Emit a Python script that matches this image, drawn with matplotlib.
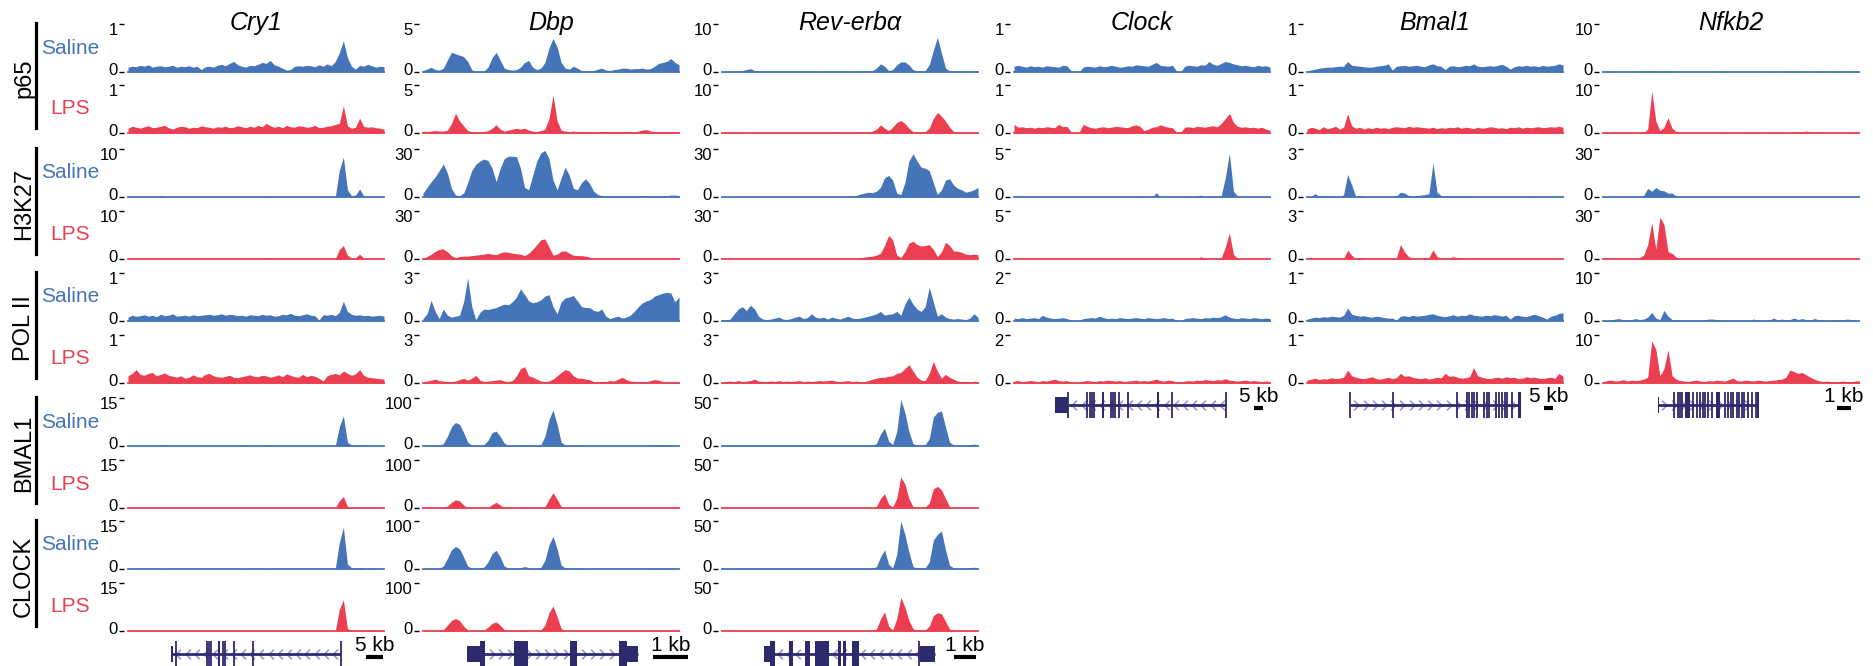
import numpy as np
import matplotlib
matplotlib.use('Agg')
import matplotlib.pyplot as plt
from matplotlib.lines import Line2D
from matplotlib.patches import Rectangle
from matplotlib.path import Path

plt.rcParams['font.family'] = ['Liberation Sans', 'DejaVu Sans']

# ---- data: binned ChIP-seq signal, % of each track's y-range (64 bins across the window) ----
gene_names = ['Cry1', 'Dbp', 'Rev-erbα', 'Clock', 'Bmal1', 'Nfkb2']
factors = ['p65', 'H3K27', 'POL II', 'BMAL1', 'CLOCK']
conditions = ['Saline', 'LPS']

y_max = {
    'Cry1': [1, 10, 1, 15, 15],
    'Dbp': [5, 30, 3, 100, 100],
    'Rev-erbα': [10, 30, 3, 50, 50],
    'Clock': [1, 5, 2],
    'Bmal1': [1, 3, 1],
    'Nfkb2': [10, 30, 10],
}

Z16 = [0] * 16

cry1_p65_sal = [10, 12, 11, 14, 12, 15, 10, 12, 13, 11, 12, 14, 10, 12, 11, 13,
                10, 12, 5, 11, 12, 10, 14, 16, 13, 18, 22, 15, 12, 10, 14, 13,
                16, 20, 18, 24, 15, 12, 8, 4, 5, 12, 13, 12, 14, 13, 11, 15,
                12, 17, 13, 22, 40, 65, 30, 12, 6, 14, 12, 16, 13, 10, 12, 11]
cry1_p65_lps = [10, 14, 12, 10, 13, 15, 11, 12, 14, 16, 11, 8, 12, 14, 13, 10,
                12, 11, 15, 13, 12, 10, 13, 12, 14, 11, 12, 15, 13, 11, 14, 12,
                16, 13, 20, 15, 12, 14, 11, 16, 13, 12, 15, 14, 12, 13, 16, 11,
                12, 14, 15, 18, 20, 57, 15, 10, 12, 31, 14, 12, 13, 11, 10, 8]
cry1_h3k27_sal = [0, 0, 0, 0, 0, 0, 0, 0, 3, 0, 0, 0, 0, 0, 0, 0] + Z16 + \
                 [0, 0, 2, 0, 0, 0, 0, 0, 0, 0, 0, 0, 0, 0, 0, 0] + \
                 [0, 0, 0, 0, 55, 83, 15, 3, 4, 17, 2, 0, 0, 0, 0, 0]
cry1_h3k27_lps = [0, 0, 0, 0, 0, 0, 0, 0, 2, 0, 0, 0, 0, 0, 0, 0] + Z16 + \
                 [0, 0, 2, 0, 0, 0, 0, 0, 0, 0, 0, 0, 0, 0, 0, 0] + \
                 [0, 0, 0, 0, 20, 28, 8, 2, 3, 10, 2, 1, 0, 0, 0, 0]
cry1_pol2_sal = [8, 12, 10, 11, 13, 10, 12, 9, 14, 11, 12, 15, 10, 11, 12, 10,
                 13, 11, 12, 13, 14, 12, 13, 15, 12, 14, 13, 11, 12, 10, 13, 12,
                 11, 14, 12, 13, 10, 11, 14, 13, 16, 12, 11, 13, 15, 12, 11, 2,
                 13, 12, 14, 11, 18, 41, 20, 14, 12, 13, 11, 12, 10, 11, 12, 10]
cry1_pol2_lps = [15, 20, 28, 18, 16, 20, 22, 15, 18, 21, 16, 14, 12, 15, 10, 12,
                 17, 13, 12, 18, 20, 15, 13, 12, 14, 16, 12, 11, 13, 15, 17, 14,
                 13, 16, 15, 12, 14, 17, 13, 19, 16, 13, 12, 18, 13, 16, 14, 10,
                 4, 15, 18, 20, 17, 25, 20, 16, 19, 28, 16, 12, 11, 10, 9, 8]
cry1_bmal1_sal = [0, 0, 0, 0, 0, 0, 0, 0, 1, 0, 0, 0, 0, 0, 0, 0,
                  0, 0, 0, 0, 0, 0, 0, 0, 0, 0, 0, 0, 1, 0, 0, 0,
                  0, 0, 1, 0, 0, 0, 0, 0, 0, 0, 0, 0, 0, 0, 0, 0,
                  0, 0, 0, 0, 40, 63, 8, 2, 1, 2, 0, 0, 0, 0, 0, 0]
cry1_bmal1_lps = Z16 + Z16 + Z16 + [0, 0, 0, 0, 15, 24, 3, 0, 0, 1, 0, 1, 0, 0, 0, 0]
cry1_clock_sal = [0, 0, 0, 0, 0, 0, 0, 0, 1, 0, 0, 0, 0, 0, 0, 0,
                  0, 0, 0, 0, 0, 0, 0, 0, 0, 0, 0, 0, 1, 0, 0, 0,
                  0, 0, 1, 0, 0, 0, 0, 0, 0, 0, 0, 0, 0, 0, 0, 0,
                  0, 0, 0, 0, 55, 87, 10, 3, 2, 3, 0, 0, 2, 0, 0, 0]
cry1_clock_lps = Z16 + Z16 + Z16 + [0, 0, 0, 0, 45, 65, 5, 0, 0, 2, 0, 0, 2, 0, 0, 0]

dbp_p65_sal = [3, 6, 10, 5, 4, 8, 25, 41, 38, 35, 32, 22, 5, 0, 0, 2,
               10, 30, 41, 25, 8, 5, 4, 5, 10, 20, 24, 10, 5, 8, 20, 50,
               70, 52, 20, 8, 6, 12, 8, 3, 2, 2, 3, 6, 8, 4, 3, 5,
               6, 8, 8, 6, 7, 7, 8, 6, 7, 12, 18, 20, 22, 28, 20, 15]
dbp_p65_lps = [4, 3, 4, 5, 4, 4, 6, 20, 41, 25, 15, 5, 3, 3, 2, 3,
               5, 10, 17, 8, 4, 6, 8, 10, 8, 10, 6, 4, 3, 5, 8, 30,
               79, 25, 6, 4, 3, 4, 3, 3, 2, 3, 2, 2, 3, 3, 2, 3,
               3, 2, 3, 3, 2, 4, 6, 7, 4, 3, 3, 2, 3, 2, 2, 2]
dbp_h3k27_sal = [8, 20, 32, 42, 55, 69, 50, 18, 4, 3, 8, 30, 55, 68, 75, 79,
                 76, 60, 32, 60, 80, 85, 85, 84, 60, 20, 15, 45, 75, 92, 97, 80,
                 35, 15, 40, 62, 45, 18, 15, 30, 38, 28, 12, 5, 3, 2, 2, 2,
                 2, 2, 2, 2, 2, 2, 3, 3, 2, 2, 2, 3, 3, 4, 4, 3]
dbp_h3k27_lps = [2, 5, 10, 16, 20, 21, 15, 7, 3, 5, 6, 6, 7, 8, 9, 10,
                 12, 10, 9, 13, 15, 14, 12, 11, 10, 7, 12, 20, 30, 40, 42, 25,
                 8, 10, 16, 17, 12, 8, 7, 7, 6, 4, 0, 0, 0, 0, 0, 0] + Z16
dbp_pol2_sal = [5, 15, 43, 20, 5, 25, 12, 8, 10, 12, 40, 90, 30, 3, 18, 25,
                24, 26, 28, 32, 35, 34, 40, 50, 67, 55, 42, 38, 40, 44, 52, 55,
                30, 15, 40, 48, 50, 53, 42, 30, 28, 28, 22, 20, 25, 10, 5, 8,
                10, 6, 8, 12, 20, 30, 38, 42, 45, 52, 55, 58, 60, 58, 40, 50]
dbp_pol2_lps = [3, 4, 6, 8, 5, 4, 3, 3, 4, 7, 10, 6, 10, 16, 6, 3,
                4, 5, 6, 7, 4, 3, 5, 15, 30, 34, 15, 12, 8, 4, 3, 4,
                8, 15, 22, 28, 25, 15, 10, 10, 8, 7, 3, 2, 3, 3, 5, 4,
                8, 12, 7, 4, 3, 3, 2, 3, 5, 7, 6, 3, 2, 2, 2, 2]
dbp_bmal1_sal = [0, 0, 1, 1, 2, 5, 20, 40, 49, 45, 28, 8, 2, 1, 1, 3,
                 12, 28, 31, 20, 6, 1, 1, 1, 2, 3, 2, 1, 1, 3, 20, 55,
                 75, 45, 8, 2, 1, 1, 1, 1, 0, 0, 0, 0, 0, 0, 0, 0,
                 0, 0, 0, 0, 0, 0, 0, 0, 0, 1, 2, 3, 2, 1, 0, 0]
dbp_bmal1_lps = [0, 0, 0, 0, 0, 1, 4, 12, 17, 15, 6, 1, 0, 0, 0, 0,
                 1, 7, 12, 6, 1, 0, 0, 0, 1, 2, 1, 0, 0, 0, 3, 18,
                 32, 18, 3, 0, 0, 0, 0, 0, 0, 0, 0, 0, 0, 0, 0, 0] + Z16
dbp_clock_sal = [0, 0, 1, 1, 2, 6, 22, 40, 47, 42, 25, 6, 2, 1, 2, 4,
                 15, 32, 39, 25, 6, 2, 1, 1, 3, 5, 3, 1, 1, 3, 18, 50,
                 68, 42, 8, 2, 1, 2, 2, 1, 1, 0, 0, 0, 0, 0, 0, 0,
                 0, 0, 0, 0, 0, 0, 0, 0, 1, 2, 2, 2, 1, 1, 0, 0]
dbp_clock_lps = [0, 0, 0, 0, 1, 3, 12, 22, 26, 22, 10, 2, 1, 0, 1, 2,
                 8, 16, 19, 12, 3, 1, 0, 0, 1, 2, 1, 0, 1, 2, 12, 38,
                 52, 30, 5, 1, 0, 0, 0, 0, 0, 0, 0, 0, 0, 0, 0, 0] + Z16

rev_p65_sal = [1, 1, 1, 2, 2, 3, 5, 7, 3, 2, 2, 2, 2, 1, 2, 2,
               2, 2, 2, 1, 2, 2, 2, 1, 1, 2, 2, 2, 2, 2, 2, 2,
               1, 2, 2, 2, 2, 3, 8, 17, 12, 3, 5, 15, 21, 21, 15, 5,
               2, 2, 3, 15, 45, 72, 40, 8, 2, 1, 2, 2, 2, 2, 2, 2]
rev_p65_lps = [1, 1, 1, 1, 1, 1, 0, 1, 1, 1, 1, 1, 1, 1, 1, 1,
               1, 1, 1, 1, 1, 1, 1, 1, 1, 1, 1, 1, 2, 1, 1, 1,
               1, 1, 2, 1, 2, 4, 8, 17, 10, 5, 12, 22, 26, 20, 10, 3,
               2, 2, 3, 10, 30, 43, 35, 25, 12, 3, 1, 1, 1, 1, 2, 1]
rev_h3k27_sal = Z16 + [0, 0, 0, 0, 0, 0, 0, 0, 0, 0, 0, 0, 0, 0, 0, 1] + \
                [2, 3, 6, 8, 10, 9, 12, 20, 40, 45, 35, 8, 5, 30, 75, 90,
                 75, 62, 60, 55, 30, 5, 15, 35, 38, 25, 18, 15, 10, 12, 15, 20]
rev_h3k27_lps = Z16 + Z16 + \
                [0, 0, 2, 4, 5, 6, 8, 12, 28, 49, 40, 8, 3, 15, 33, 37,
                 30, 27, 28, 30, 20, 5, 15, 35, 28, 17, 16, 14, 10, 9, 10, 9]
rev_pol2_sal = [2, 2, 4, 15, 25, 30, 22, 33, 25, 10, 4, 3, 4, 6, 8, 4,
                3, 5, 8, 10, 5, 7, 15, 8, 6, 8, 4, 8, 6, 4, 7, 10,
                6, 5, 6, 8, 10, 12, 15, 20, 12, 14, 15, 20, 12, 35, 50, 35,
                25, 20, 30, 70, 40, 10, 15, 8, 5, 4, 5, 4, 3, 6, 15, 8]
rev_pol2_lps = [2, 3, 4, 3, 5, 3, 4, 5, 8, 4, 3, 3, 4, 3, 5, 3,
                4, 3, 4, 5, 3, 4, 3, 4, 5, 4, 5, 6, 4, 3, 4, 5,
                3, 4, 3, 3, 5, 8, 10, 12, 12, 14, 15, 20, 22, 30, 38, 25,
                12, 6, 5, 20, 45, 25, 10, 18, 12, 8, 4, 3, 3, 2, 4, 3]
rev_bmal1_sal = [2, 1, 2, 1, 1, 2, 1, 1, 2, 1, 1, 2, 1, 1, 1, 2,
                 1, 2, 1, 1, 2, 1, 1, 1, 2, 1, 1, 1, 1, 1, 2, 1,
                 1, 1, 1, 2, 1, 2, 5, 25, 37, 10, 3, 30, 97, 70, 30, 5,
                 2, 2, 3, 15, 60, 70, 73, 40, 8, 2, 1, 1, 1, 2, 4, 2]
rev_bmal1_lps = Z16 + Z16 + \
                [0, 0, 0, 0, 0, 0, 3, 20, 30, 8, 2, 20, 65, 50, 20, 3,
                 0, 0, 2, 10, 40, 45, 38, 20, 3, 0, 0, 0, 0, 0, 0, 0]
rev_clock_sal = [1, 1, 1, 2, 1, 1, 1, 1, 1, 1, 1, 1, 1, 1, 1, 1,
                 1, 1, 1, 1, 1, 1, 1, 1, 1, 1, 1, 1, 1, 1, 1, 1,
                 1, 1, 1, 1, 1, 1, 5, 25, 40, 10, 2, 30, 100, 72, 35, 5,
                 2, 2, 2, 15, 60, 72, 79, 40, 8, 2, 1, 1, 1, 2, 4, 1]
rev_clock_lps = Z16 + Z16 + \
                [0, 0, 0, 0, 0, 0, 4, 25, 40, 10, 2, 25, 70, 50, 22, 5,
                 1, 1, 2, 10, 32, 38, 36, 20, 4, 1, 0, 0, 0, 0, 2, 0]

clock_p65_sal = [12, 14, 12, 10, 13, 11, 12, 10, 13, 12, 11, 10, 14, 13, 3, 0,
                 0, 10, 12, 11, 10, 13, 11, 12, 14, 12, 10, 11, 13, 12, 15, 14,
                 13, 12, 16, 20, 14, 13, 12, 14, 2, 0, 12, 14, 13, 12, 15, 14,
                 22, 16, 14, 18, 22, 20, 17, 15, 13, 14, 12, 11, 14, 12, 13, 10]
clock_p65_lps = [18, 12, 13, 11, 12, 10, 12, 11, 13, 12, 11, 18, 13, 14, 3, 0,
                 1, 18, 14, 11, 10, 12, 13, 11, 12, 14, 13, 12, 11, 15, 17, 14,
                 5, 8, 12, 13, 17, 14, 12, 11, 2, 1, 12, 13, 11, 14, 13, 12,
                 14, 15, 13, 20, 30, 41, 22, 14, 12, 13, 11, 12, 10, 12, 8, 6]
clock_h3k27_sal = Z16 + [0, 0, 0, 0, 0, 0, 2, 0, 0, 0, 0, 0, 0, 0, 2, 2] + \
                  [0, 0, 0, 9, 0, 0, 2, 0, 0, 0, 0, 2, 0, 2, 4, 0] + \
                  [0, 2, 0, 3, 40, 91, 12, 2, 0, 0, 0, 0, 0, 0, 0, 0]
clock_h3k27_lps = [0, 0, 0, 0, 0, 0, 0, 0, 0, 0, 0, 0, 2, 0, 0, 0] + \
                  [0, 0, 0, 0, 0, 0, 0, 0, 0, 0, 0, 0, 0, 0, 2, 0] + \
                  [0, 0, 0, 0, 0, 0, 0, 0, 0, 0, 0, 0, 0, 0, 5, 0] + \
                  [0, 0, 0, 2, 25, 54, 10, 1, 0, 0, 0, 0, 0, 0, 0, 0]
clock_pol2_sal = [6, 5, 7, 5, 6, 7, 5, 12, 8, 6, 5, 6, 7, 5, 2, 0,
                  1, 5, 6, 7, 6, 10, 7, 5, 6, 5, 7, 6, 5, 6, 7, 6,
                  5, 7, 6, 5, 6, 7, 5, 6, 1, 0, 5, 6, 7, 6, 5, 7,
                  6, 8, 7, 9, 13, 8, 6, 5, 7, 6, 5, 7, 6, 5, 6, 5]
clock_pol2_lps = [4, 5, 3, 4, 5, 4, 3, 5, 4, 6, 8, 5, 4, 5, 2, 1,
                  2, 4, 5, 4, 3, 5, 4, 6, 5, 4, 5, 3, 4, 5, 6, 4,
                  5, 4, 6, 8, 5, 4, 6, 5, 2, 1, 4, 5, 4, 6, 5, 7,
                  6, 5, 7, 6, 9, 6, 5, 4, 5, 6, 4, 5, 4, 3, 4, 3]

bmal1_p65_sal = [3, 4, 6, 8, 9, 10, 10, 11, 12, 12, 22, 14, 13, 12, 11, 10,
                 10, 12, 13, 14, 17, 4, 12, 13, 14, 12, 13, 14, 12, 11, 15, 17,
                 13, 12, 5, 12, 13, 11, 12, 14, 13, 17, 12, 11, 12, 13, 12, 14,
                 16, 12, 6, 11, 13, 12, 14, 12, 13, 11, 14, 12, 13, 14, 17, 15]
bmal1_p65_lps = [8, 12, 10, 7, 13, 9, 11, 14, 8, 12, 40, 15, 10, 12, 8, 11,
                 9, 12, 10, 11, 9, 12, 13, 12, 11, 14, 12, 13, 12, 11, 10, 12,
                 9, 11, 10, 12, 11, 13, 10, 12, 11, 9, 12, 10, 11, 13, 12, 10,
                 11, 9, 12, 11, 13, 10, 12, 11, 12, 13, 11, 12, 13, 12, 14, 12]
bmal1_h3k27_sal = [0, 1, 7, 1, 3, 1, 3, 1, 0, 5, 47, 25, 1, 3, 1, 0,
                   0, 0, 0, 0, 0, 0, 2, 10, 8, 3, 1, 3, 4, 5, 7, 71,
                   10, 3, 2, 3, 2, 3, 2, 2, 3, 1, 0, 0, 0, 0, 0, 0,
                   0, 1, 0, 0, 0, 0, 0, 1, 1, 0, 0, 0, 0, 0, 0, 0]
bmal1_h3k27_lps = [0, 0, 0, 0, 0, 0, 0, 0, 0, 1, 18, 8, 0, 3, 0, 0,
                   0, 1, 0, 0, 0, 0, 2, 30, 15, 5, 2, 0, 0, 3, 3, 19,
                   5, 2, 0, 2, 5, 2, 0, 0, 0, 2, 0, 0, 0, 0, 0, 0,
                   1, 0, 0, 0, 0, 0, 1, 0, 0, 0, 0, 0, 0, 0, 0, 0]
bmal1_pol2_sal = [4, 6, 8, 7, 9, 8, 10, 9, 8, 12, 27, 14, 12, 10, 11, 9,
                  8, 10, 9, 7, 6, 6, 2, 10, 11, 9, 12, 10, 11, 12, 14, 15,
                  12, 10, 9, 11, 13, 10, 12, 11, 15, 12, 11, 10, 12, 11, 13, 12,
                  10, 12, 4, 11, 12, 10, 9, 12, 14, 11, 8, 4, 10, 12, 16, 17]
bmal1_pol2_lps = [6, 8, 10, 7, 9, 8, 11, 9, 10, 12, 27, 15, 12, 10, 9, 11,
                  13, 9, 8, 10, 12, 9, 11, 20, 14, 15, 12, 10, 9, 11, 8, 10,
                  12, 11, 20, 14, 15, 12, 10, 11, 13, 32, 15, 12, 10, 9, 11, 12,
                  10, 13, 11, 12, 9, 10, 13, 11, 12, 10, 9, 11, 12, 10, 20, 14]

nfkb2_p65_sal = [0, 0, 2, 0, 0, 0, 0, 0, 0, 0, 2, 2, 2, 3, 0, 2,
                 2, 0, 0, 0, 0, 0, 0, 0, 0, 0, 0, 0, 0, 0, 2, 0,
                 0, 0, 0, 0, 0, 0, 0, 0, 0, 1, 0, 0, 0, 0, 2, 0,
                 2, 0, 0, 0, 0, 0, 2, 0, 0, 0, 2, 0, 0, 0, 2, 0]
nfkb2_p65_lps = [1, 2, 1, 0, 1, 2, 1, 1, 0, 2, 1, 8, 87, 25, 5, 12,
                 32, 10, 3, 1, 0, 0, 0, 0, 0, 0, 0, 1, 0, 0, 2, 1,
                 0, 1, 0, 2, 1, 0, 2, 0, 1, 0, 2, 1, 2, 0, 1, 2,
                 1, 3, 4, 2, 1, 2, 1, 0, 0, 0, 0, 0, 0, 1, 2, 1]
nfkb2_h3k27_sal = [0, 0, 0, 0, 0, 0, 0, 0, 0, 0, 3, 18, 12, 20, 14, 13,
                   8, 8, 2, 0, 0, 0, 0, 0, 0, 0, 0, 0, 0, 0, 0, 0] + Z16 + Z16
nfkb2_h3k27_lps = [0, 0, 0, 0, 0, 0, 0, 0, 0, 3, 8, 30, 76, 20, 87, 72,
                   15, 12, 4, 0, 0, 0, 0, 0, 0, 0, 0, 0, 0, 0, 0, 0] + Z16 + Z16
nfkb2_pol2_sal = [1, 1, 2, 4, 5, 2, 2, 3, 5, 3, 4, 8, 18, 6, 3, 22,
                  10, 3, 2, 1, 2, 1, 2, 1, 1, 2, 4, 4, 3, 2, 2, 1,
                  1, 2, 1, 2, 1, 4, 2, 2, 1, 2, 6, 2, 4, 2, 3, 6,
                  3, 5, 3, 2, 5, 3, 2, 1, 2, 2, 3, 2, 4, 3, 2, 1]
nfkb2_pol2_lps = [3, 5, 6, 4, 5, 7, 4, 6, 5, 6, 8, 12, 88, 70, 15, 30,
                  69, 15, 8, 5, 4, 3, 5, 6, 4, 3, 5, 4, 6, 5, 4, 7,
                  10, 5, 4, 6, 5, 4, 6, 5, 4, 5, 6, 7, 8, 12, 27, 24,
                  20, 22, 17, 12, 8, 5, 3, 4, 3, 2, 3, 4, 3, 2, 4, 5]

signals = {
    'Cry1': [cry1_p65_sal, cry1_p65_lps, cry1_h3k27_sal, cry1_h3k27_lps, cry1_pol2_sal,
             cry1_pol2_lps, cry1_bmal1_sal, cry1_bmal1_lps, cry1_clock_sal, cry1_clock_lps],
    'Dbp': [dbp_p65_sal, dbp_p65_lps, dbp_h3k27_sal, dbp_h3k27_lps, dbp_pol2_sal,
            dbp_pol2_lps, dbp_bmal1_sal, dbp_bmal1_lps, dbp_clock_sal, dbp_clock_lps],
    'Rev-erbα': [rev_p65_sal, rev_p65_lps, rev_h3k27_sal, rev_h3k27_lps, rev_pol2_sal,
                 rev_pol2_lps, rev_bmal1_sal, rev_bmal1_lps, rev_clock_sal, rev_clock_lps],
    'Clock': [clock_p65_sal, clock_p65_lps, clock_h3k27_sal, clock_h3k27_lps,
              clock_pol2_sal, clock_pol2_lps],
    'Bmal1': [bmal1_p65_sal, bmal1_p65_lps, bmal1_h3k27_sal, bmal1_h3k27_lps,
              bmal1_pol2_sal, bmal1_pol2_lps],
    'Nfkb2': [nfkb2_p65_sal, nfkb2_p65_lps, nfkb2_h3k27_sal, nfkb2_h3k27_lps,
              nfkb2_pol2_sal, nfkb2_pol2_lps],
}

# gene models, positions as fraction of the browser window
gene_models = {
    'Cry1': dict(span=(0.172, 0.832), strand='-', utr=[(0.168, 0.175)], cds=[(0.352, 0.360)],
                 lines=[0.1875, 0.309, 0.316, 0.324, 0.371, 0.379, 0.414, 0.488, 0.832]),
    'Dbp': dict(span=(0.172, 0.84), strand='+', utr=[(0.172, 0.223), (0.797, 0.84)],
                cds=[(0.223, 0.242), (0.355, 0.41), (0.574, 0.602), (0.766, 0.797)], lines=[]),
    'Rev-erbα': dict(span=(0.164, 0.832), strand='-', utr=[(0.164, 0.195), (0.773, 0.832)],
                     cds=[(0.188, 0.207), (0.262, 0.277), (0.324, 0.344), (0.363, 0.418),
                          (0.453, 0.464), (0.473, 0.484), (0.508, 0.535)], lines=[0.77]),
    'Clock': dict(span=(0.211, 0.828), strand='-', utr=[(0.16, 0.211)],
                  cds=[(0.344, 0.352), (0.559, 0.566)],
                  lines=[0.211, 0.285, 0.297, 0.305, 0.3125, 0.379, 0.387, 0.395, 0.41,
                         0.445, 0.617, 0.828]),
    'Bmal1': dict(span=(0.168, 0.832), strand='+', utr=[], cds=[(0.826, 0.834)],
                  lines=[0.168, 0.336, 0.586, 0.625, 0.633, 0.645, 0.652, 0.664, 0.691,
                         0.703, 0.711, 0.738, 0.75, 0.762, 0.773, 0.781, 0.80]),
    'Nfkb2': dict(span=(0.215, 0.607), strand='+', utr=[(0.213, 0.218)],
                  cds=[(0.32, 0.34), (0.44, 0.457), (0.601, 0.61)],
                  lines=[0.277, 0.293, 0.30, 0.309, 0.352, 0.367, 0.379, 0.391, 0.40, 0.41,
                         0.426, 0.477, 0.488, 0.50, 0.508, 0.523, 0.531, 0.543, 0.551,
                         0.566, 0.582, 0.598]),
}
scale_bars = {
    'Cry1': (0.93, 0.996, '5 kb'), 'Dbp': (0.898, 1.035, '1 kb'),
    'Rev-erbα': (0.906, 0.992, '1 kb'), 'Clock': (0.9375, 0.973, '5 kb'),
    'Bmal1': (0.926, 0.961, '5 kb'), 'Nfkb2': (0.914, 0.969, '1 kb'),
}

# ---- layout (pixels) ----
W, H = 1874, 666
BLUE = '#4575b8'
RED = '#eb3e50'
NAVY = '#2e2a6e'
CHEV = '#9a98d0'
col_left = [128, 423, 722, 1014, 1307, 1603]
col_w = 256
baselines = [72, 133, 197, 259, 321, 383, 446, 508, 569, 631]
track_h = 48
gene_y = [654, 654, 654, 405, 405, 405]


def fx(x):
    return x / W


def fy(y):
    return 1 - y / H


fig = plt.figure(figsize=(W / 100, H / 100), dpi=100)

chev_left = Path([(0.5, 1), (-0.5, 0), (0.5, -1)], [Path.MOVETO, Path.LINETO, Path.LINETO])
chev_right = Path([(-0.5, 1), (0.5, 0), (-0.5, -1)], [Path.MOVETO, Path.LINETO, Path.LINETO])

for c, gene in enumerate(gene_names):
    x0 = col_left[c]
    fig.text(fx(x0 + col_w / 2), fy(30), gene, ha='center', va='baseline',
             fontsize=18, style='italic')
    for i, vals in enumerate(signals[gene]):
        fi, cond = divmod(i, 2)
        ymax = y_max[gene][fi]
        color = BLUE if cond == 0 else RED
        b = baselines[i]
        ax = fig.add_axes([fx(x0), fy(b), fx(col_w), track_h / H])
        vals = np.array(vals) / 100 * ymax
        pos = np.linspace(0, 1, len(vals))
        ax.fill_between(pos, 0, vals, color=color, lw=0)
        ax.plot([0, 1], [0, 0], color=color, lw=1.3, clip_on=False)
        ax.set_xlim(0, 1)
        ax.set_ylim(0, ymax)
        for s in ax.spines.values():
            s.set_visible(False)
        ax.spines['left'].set_position(('outward', 3))
        ax.set_xticks([])
        ax.set_yticks([0, ymax], labels=[])
        ax.tick_params(axis='y', length=3.5, width=1)
        ax.annotate('0', xy=(0, 0), xycoords=('axes fraction', 'data'),
                    xytext=(-10, -3), textcoords='offset pixels',
                    ha='right', va='baseline', fontsize=12)
        ax.annotate(str(ymax), xy=(0, ymax), xycoords=('axes fraction', 'data'),
                    xytext=(-10, 1), textcoords='offset pixels',
                    ha='right', va='top', fontsize=12)

    # gene model
    g = gene_models[gene]
    gy = gene_y[c]
    gax = fig.add_axes([fx(x0), fy(gy + 15), fx(col_w), 30 / H])
    gax.set_xlim(0, 1)
    gax.set_ylim(-15, 15)
    gax.axis('off')
    s0, s1 = g['span']
    gax.plot([s0, s1], [0, 0], color=NAVY, lw=2, solid_capstyle='butt', zorder=2)
    xs = np.arange(s0 + 0.025, s1 - 0.01, 0.036)
    gax.plot(xs, np.zeros_like(xs), ls='none', marker=chev_left if g['strand'] == '-' else chev_right,
             ms=7, mec=CHEV, mfc='none', mew=1.2, zorder=1)
    for a, bnd in g['utr']:
        gax.add_patch(Rectangle((a, -8), bnd - a, 16, color=NAVY, lw=0, zorder=3))
    for a, bnd in g['cds']:
        gax.add_patch(Rectangle((a, -13), bnd - a, 26, color=NAVY, lw=0, zorder=3))
    gax.vlines(g['lines'], -13, 13, color=NAVY, lw=1.3, zorder=3)
    sb0, sb1, lab = scale_bars[gene]
    gax.plot([sb0, sb1], [-3, -3], color='black', lw=3, solid_capstyle='butt', clip_on=False)
    gax.text((sb0 + sb1) / 2, 3, lab, ha='center', va='baseline', fontsize=15, clip_on=False)

# condition labels and factor labels on the left
for i, b in enumerate(baselines):
    cond = i % 2
    fig.text(fx(70), fy(b - track_h / 2), conditions[cond], ha='center', va='center',
             fontsize=15, color=BLUE if cond == 0 else RED)
for k, name in enumerate(factors):
    b0, b1 = baselines[2 * k], baselines[2 * k + 1]
    fig.text(fx(24), fy((b0 - track_h + b1) / 2), name, rotation=90, ha='center', va='center',
             fontsize=17)
    fig.add_artist(Line2D([fx(36), fx(36)], [fy(b0 - 49), fy(b1 - 5)], color='black', lw=2.3,
                          transform=fig.transFigure))

fig.savefig('out.png', dpi=100)
